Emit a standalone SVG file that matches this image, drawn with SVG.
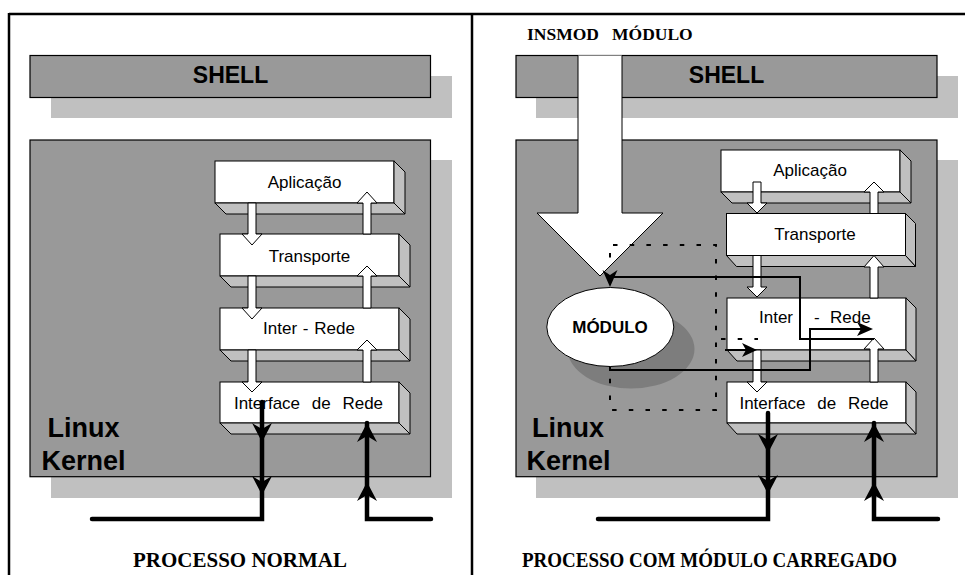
<svg xmlns="http://www.w3.org/2000/svg" xmlns:xlink="http://www.w3.org/1999/xlink" width="965" height="575" viewBox="0 0 965 575">
<style>
.frame{fill:none;stroke:#000;stroke-width:2.5}
.box{fill:#999999;stroke:#000;stroke-width:1.2}
.shadow{fill:#c0c0c0;stroke:none}
.front{fill:#fff;stroke:#000;stroke-width:1}
.face{fill:#c0c0c0;stroke:#000;stroke-width:1}
.hollow{fill:#fff;stroke:#000;stroke-width:1}
.thick{fill:none;stroke:#000;stroke-width:4.5;stroke-linecap:round;stroke-linejoin:miter}
.thin{fill:none;stroke:#000;stroke-width:2}
.dot{fill:none;stroke:#000;stroke-width:2;stroke-dasharray:4.5 12.2}
.lbl{font-family:"Liberation Sans",Arial,sans-serif;font-size:17px;fill:#000;text-anchor:middle}
.lbls{font-family:"Liberation Sans",Arial,sans-serif;font-size:17px;fill:#000;text-anchor:start}
.big{font-family:"Liberation Sans",Arial,sans-serif;font-weight:bold;fill:#000;text-anchor:middle}
.cap{font-family:"Liberation Serif","Times New Roman",serif;font-weight:bold;fill:#000}
</style>
<defs>
<path id="ahd" d="M0,0 L-10,-19 L0,-13 L10,-19 Z" fill="#000"/>
<path id="ahu" d="M0,0 L-10,19 L0,13 L10,19 Z" fill="#000"/>
</defs>

<g id="frame">
<line class="frame" x1="9" y1="14" x2="965" y2="14"/>
<line class="frame" x1="9" y1="13" x2="9" y2="575"/>
<line class="frame" x1="472" y1="13" x2="472" y2="575"/>
</g>

<!-- LEFT PANEL -->
<g id="shell-left">
<rect class="shadow" x="51" y="76" width="401" height="42"/>
<rect class="box" x="30" y="55.5" width="400.5" height="42"/>
<text class="big" x="230.5" y="83" font-size="23">SHELL</text>
</g>
<g id="kernel-left">
<rect class="shadow" x="51" y="160" width="401" height="338"/>
<rect class="box" x="30" y="140" width="400.5" height="336.7"/>
<text class="big" x="83.5" y="437" font-size="27">Linux</text>
<text class="big" x="83.5" y="470" font-size="27">Kernel</text>
</g>
<g id="aplicacao-left">
<rect class="front" x="215" y="161" width="179" height="42"/>
<polygon class="face" points="394,161 405,172 405,214 394,203"/>
<polygon class="face" points="215,203 394,203 405,214 226,214"/>
<text class="lbl" x="304.5" y="188">Aplicação</text>
</g>
<g id="transporte-left">
<rect class="front" x="220" y="234" width="179" height="42"/>
<polygon class="face" points="399,234 410,245 410,287 399,276"/>
<polygon class="face" points="220,276 399,276 410,287 231,287"/>
<text class="lbl" x="309.5" y="262">Transporte</text>
</g>
<g id="interrede-left">
<rect class="front" x="220" y="308" width="179" height="42"/>
<polygon class="face" points="399,308 410,319 410,361 399,350"/>
<polygon class="face" points="220,350 399,350 410,361 231,361"/>
<text class="lbl" x="309" y="334" word-spacing="1">Inter - Rede</text>
</g>
<g id="interface-left">
<rect class="front" x="220" y="382" width="179" height="41"/>
<polygon class="face" points="399,382 410,393 410,434 399,423"/>
<polygon class="face" points="220,423 399,423 410,434 231,434"/>
<text class="lbl" x="308.5" y="409" word-spacing="7">Interface de Rede</text>
</g>

<!-- RIGHT PANEL -->
<g id="insmod-label">
<text class="cap" x="527" y="40" font-size="17.5">INSMOD</text>
<text class="cap" x="612" y="40" font-size="17.5">MÓDULO</text>
</g>
<g id="shell-right">
<rect class="shadow" x="536" y="76" width="422" height="42"/>
<rect class="box" x="516" y="55.5" width="421" height="42"/>
<text class="big" x="726.5" y="83" font-size="23">SHELL</text>
</g>
<g id="kernel-right">
<rect class="shadow" x="536" y="160" width="422" height="338"/>
<rect class="box" x="516" y="140" width="421" height="336.7"/>
<text class="big" x="568" y="437" font-size="27">Linux</text>
<text class="big" x="568.5" y="470" font-size="27">Kernel</text>
</g>
<g id="aplicacao-right">
<rect class="front" x="721" y="150" width="179" height="42"/>
<polygon class="face" points="900,150 911,161 911,203 900,192"/>
<polygon class="face" points="721,192 900,192 911,203 732,203"/>
<text class="lbl" x="810" y="176">Aplicação</text>
</g>
<g id="transporte-right">
<rect class="front" x="726.5" y="213.5" width="179" height="42"/>
<polygon class="face" points="905.5,213.5 915.5,223.5 915.5,266.5 905.5,255.5"/>
<polygon class="face" points="726.5,255.5 905.5,255.5 915.5,266.5 736.5,266.5"/>
<text class="lbl" x="815" y="240">Transporte</text>
</g>
<g id="interrede-right">
<rect class="front" x="727" y="298" width="179" height="52"/>
<polygon class="face" points="906,298 916,308 916,361 906,350"/>
<polygon class="face" points="727,350 906,350 916,361 737,361"/>
<text class="lbls" x="759" y="323">Inter</text>
<text class="lbls" x="814" y="323">-</text>
<text class="lbls" x="830" y="323">Rede</text>
</g>
<g id="interface-right">
<rect class="front" x="727" y="382" width="179" height="41"/>
<polygon class="face" points="906,382 916,392 916,434 906,423"/>
<polygon class="face" points="727,423 906,423 916,434 737,434"/>
<text class="lbl" x="814" y="409" word-spacing="7">Interface de Rede</text>
</g>

<g id="insmod-arrow">
<path class="hollow" d="M578,55.5 V213 H537 L600,276 L663,213 H622 V55.5"/>
</g>

<g id="modulo-shadow">
<ellipse cx="631" cy="349" rx="63.5" ry="39.5" fill="#7d7d7d"/>
</g>

<g id="connectors">
<!-- left panel hollow arrows -->
<polygon class="hollow" points="248,203 256,203 256,234 262,234 252,245 242,234 248,234"/>
<polygon class="hollow" points="248,276 256,276 256,308 262,308 252,319 242,308 248,308"/>
<polygon class="hollow" points="248,350 256,350 256,382 262,382 252,392 242,382 248,382"/>
<polygon class="hollow" points="363,234 363,203 357,203 367,192 377,203 371,203 371,234"/>
<polygon class="hollow" points="363,308 363,276 357,276 367,266 377,276 371,276 371,308"/>
<polygon class="hollow" points="363,382 363,350 357,350 367,340 377,350 371,350 371,382"/>
<!-- right panel hollow arrows -->
<polygon class="hollow" points="753,182 761,182 761,203 767,203 757,213 747,203 753,203"/>
<polygon class="hollow" points="753,255.5 761,255.5 761,287 767,287 757,297 747,287 753,287"/>
<polygon class="hollow" points="753,350 761,350 761,382 767,382 757,392 747,382 753,382"/>
<polygon class="hollow" points="870,213.5 870,192 864,192 874,182 884,192 878,192 878,213.5"/>
<polygon class="hollow" points="870,298 870,267 864,267 874,255.5 884,267 878,267 878,298"/>
<polygon class="hollow" points="870,382 870,349 864,349 874,338 884,349 878,349 878,382"/>

<!-- dotted original path -->
<path class="dot" d="M613,245 H716 V410 H610 V366"/>
<path class="dot" d="M610,253 V262"/>
<path class="dot" d="M721,339 H758"/>

<!-- module solid paths -->
<path class="thin" d="M874,339 H800 V277 H610 V278"/>
<path d="M610,287 L602.5,270 L610,275 L617.5,270 Z" fill="#000"/>
<path class="thin" d="M610,366 V370 H810 V329 H862"/>
<path d="M873,329 L857,322 L861,329 L857,336 Z" fill="#000"/>
<path class="thin" d="M725,350 H746"/>
<path d="M757,350 L742,343 L746,350 L742,357 Z" fill="#000"/>

<!-- thick network lines -->
<path class="thick" d="M262,402 V519 H92"/>
<path class="thick" d="M367,423 V519 H431"/>
<use xlink:href="#ahd" x="262" y="442"/>
<use xlink:href="#ahd" x="262" y="495"/>
<use xlink:href="#ahu" x="367" y="423"/>
<use xlink:href="#ahu" x="367" y="482"/>
<path class="thick" d="M768,413 V519 H598"/>
<path class="thick" d="M874,423 V519 H938"/>
<use xlink:href="#ahd" x="768" y="453"/>
<use xlink:href="#ahd" x="768" y="494"/>
<use xlink:href="#ahu" x="874" y="423"/>
<use xlink:href="#ahu" x="874" y="482"/>
</g>

<g id="modulo">
<ellipse cx="610.3" cy="327" rx="63.5" ry="39.5" fill="#fff" stroke="#000" stroke-width="1"/>
<text class="big" x="610" y="333" font-size="17">MÓDULO</text>
</g>

<g id="captions">
<text class="cap" x="133" y="567" font-size="21" textLength="214" lengthAdjust="spacingAndGlyphs">PROCESSO NORMAL</text>
<text class="cap" x="522" y="567" font-size="21" textLength="375" lengthAdjust="spacingAndGlyphs">PROCESSO COM MÓDULO CARREGADO</text>
</g>
</svg>
